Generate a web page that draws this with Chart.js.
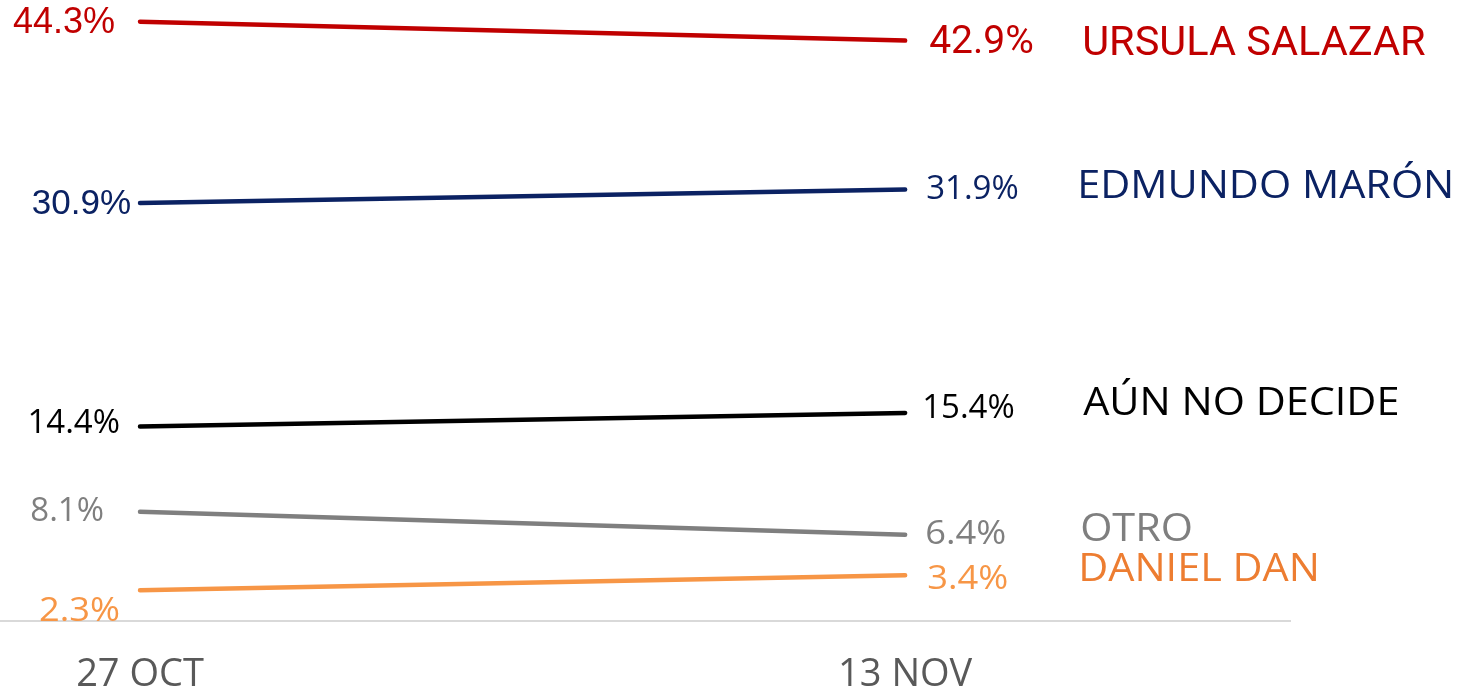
<!DOCTYPE html>
<html>
<head>
<meta charset="utf-8">
<script src="https://cdn.jsdelivr.net/npm/chart.js@4.4.1/dist/chart.umd.min.js"></script>
<style>
  html, body { margin: 0; padding: 0; background: #ffffff; }
  #wrap { width: 1457px; height: 689px; }
</style>
</head>
<body>
<div id="wrap"><canvas id="trendChart"></canvas></div>
<script>
// survey dates and candidate results
const dates = ['27 OCT', '13 NOV'];
const names = ['URSULA SALAZAR', 'EDMUNDO MARÓN', 'AÚN NO DECIDE', 'OTRO', 'DANIEL DAN'];
const salazar = [44.3, 42.9];
const maron = [30.9, 31.9];
const undecided = [14.4, 15.4];
const other = [8.1, 6.4];
const dan = [2.3, 3.4];

const series = [salazar, maron, undecided, other, dan];

// fonts: [family, size, horizontal stretch]
const arial = ['Liberation Sans', 36, 1];
const roboto = ['Roboto', 39, 1];
const robotoName = ['Roboto', 41.5, 1];
const value = ['Open Sans', 33, 1];
const valueWide = ['Open Sans', 33, 1.1];
const nameFont = ['Open Sans', 38, 1.09];

// look of each line and where its labels sit next to the end points
const styles = [
    { color: '#c00000', nameColor: '#c00000', leftFont: arial, rightFont: roboto, nameFont: robotoName,
      left: [-25, 1], right: [24, 3], name: [177, 4] },
    { color: '#0b2263', nameColor: '#0b2263', leftFont: ['Liberation Sans', 35, 1], rightFont: value, nameFont: nameFont,
      left: [-9, 1], right: [21, 0], name: [172, -2] },
    { color: '#000000', nameColor: '#000000', leftFont: value, rightFont: value, nameFont: nameFont,
      left: [-20, -3], right: [17, -4], name: [178, -9] },
    { color: '#7f7f7f', nameColor: '#7f7f7f', leftFont: value, rightFont: valueWide, nameFont: nameFont,
      left: [-36, 0], right: [20, 0], name: [175, -5] },
    { color: '#f79646', nameColor: '#ed7d31', leftFont: valueWide, rightFont: valueWide, nameFont: nameFont,
      left: [-20, 21], right: [22, 4], name: [173, -5] },
];

function drawText(ctx, text, x, y, font, align) {
    ctx.save();
    ctx.font = font[1] + 'px "' + font[0] + '"';
    ctx.textAlign = align;
    ctx.textBaseline = 'middle';
    ctx.translate(x, y);
    ctx.scale(font[2], 1);
    ctx.fillText(text, 0, 0);
    ctx.restore();
}

const labelPlugin = {
    id: 'endLabels',
    afterDatasetsDraw(chart) {
        const ctx = chart.ctx;
        chart.data.datasets.forEach((ds, i) => {
            const st = styles[i];
            const pts = chart.getDatasetMeta(i).data;
            const first = pts[0];
            const last = pts[pts.length - 1];

            ctx.fillStyle = st.color;
            drawText(ctx, ds.data[0].y.toFixed(1) + '%', first.x + st.left[0], first.y + st.left[1], st.leftFont, 'right');
            drawText(ctx, ds.data[1].y.toFixed(1) + '%', last.x + st.right[0], last.y + st.right[1], st.rightFont, 'left');

            ctx.fillStyle = st.nameColor;
            drawText(ctx, ds.label, last.x + st.name[0], last.y + st.name[1], st.nameFont, 'left');
        });
    }
};

new Chart(document.getElementById('trendChart'), {
    type: 'line',
    data: {
        datasets: series.map((vals, i) => ({
            label: names[i],
            data: vals.map((v, j) => ({ x: j, y: v })),
            borderColor: styles[i].color,
            borderWidth: 4.5,
            borderCapStyle: 'round',
            pointRadius: 0,
            clip: false,
        })),
    },
    options: {
        responsive: true,
        maintainAspectRatio: false,
        animation: false,
        layout: { padding: { left: 0, right: 167, top: 0, bottom: -40 } },
        plugins: { legend: { display: false }, tooltip: { enabled: false } },
        scales: {
            x: {
                type: 'linear',
                min: -0.183,
                max: 1.503,
                afterBuildTicks: (axis) => { axis.ticks = dates.map((d, j) => ({ value: j })); },
                grid: { display: false, drawTicks: false },
                border: { display: true, color: '#d9d9d9', width: 2 },
                ticks: {
                    color: '#595959',
                    padding: 31,
                    font: { family: 'Open Sans', size: 38 },
                    callback: (v) => dates[v],
                },
            },
            y: {
                display: false,
                min: 0,
                max: 45.9,
            },
        },
    },
    plugins: [labelPlugin],
});
</script>
</body>
</html>
